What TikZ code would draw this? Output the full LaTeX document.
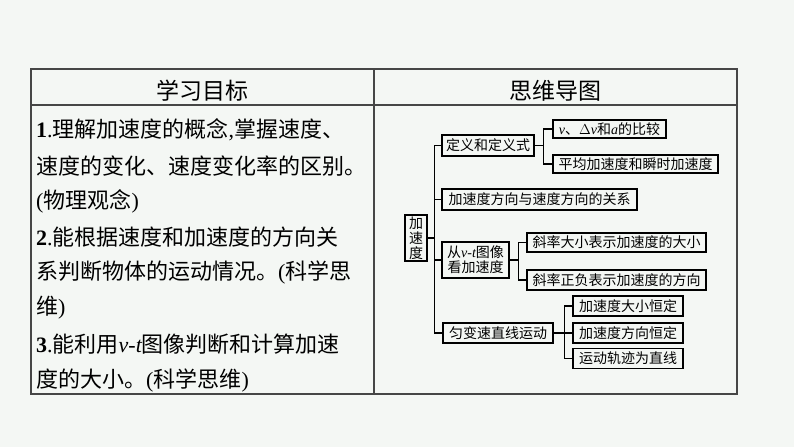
\documentclass[tikz,border=0pt]{standalone}
\usepackage{fontspec}
\setmainfont{Liberation Serif}
\newfontfamily\cjk{Noto Sans CJK SC}
\definecolor{bgc}{RGB}{244,247,244}
\definecolor{tblc}{RGB}{70,70,70}
\begin{document}
\begin{tikzpicture}[x=1pt,y=-1pt,
  lt/.style={anchor=west, inner sep=0pt, font=\cjk\fontsize{22}{26}\selectfont},
  hd/.style={inner sep=0pt, font=\cjk\fontsize{23}{27}\selectfont},
  bx/.style={draw=black, line width=1.1pt, fill=bgc, inner sep=0pt, font=\cjk\fontsize{14}{15}\selectfont},
  ln/.style={draw=black, line width=1.1pt},
  tbl/.style={draw=tblc, line width=1.2pt}]
\fill[bgc] (0,0) rectangle (794,447);
\useasboundingbox (0,0) rectangle (794,447);
% table
\draw[tbl] (31,69) rectangle (737,394);
\draw[tbl] (31,105) -- (737,105);
\draw[tbl] (374,69) -- (374,394);
\node[hd] (h1) at (202.5,91) {学习目标};
\node[hd] (h2) at (555.5,91) {思维导图};
% left text
\node[lt] (l1) at (36,130) {{\rmfamily\textbf{1}.}理解加速度的概念{\rmfamily,}掌握速度、};
\node[lt] (l2) at (36,166) {速度的变化、速度变化率的区别。};
\node[lt] (l3) at (36,201) {{\rmfamily(}物理观念{\rmfamily)}};
\node[lt] (l4) at (36,237) {{\rmfamily\textbf{2}.}能根据速度和加速度的方向关};
\node[lt] (l5) at (36,272) {系判断物体的运动情况。{\rmfamily(}科学思};
\node[lt] (l6) at (36,308) {维{\rmfamily)}};
\node[lt] (l7) at (36,344) {{\rmfamily\textbf{3}.}能利用{\rmfamily\itshape v-t}图像判断和计算加速};
\node[lt] (l8) at (36,380) {度的大小。{\rmfamily(}科学思维{\rmfamily)}};
% mind map
\node[bx, minimum width=22, minimum height=46, align=center, font=\cjk\fontsize{14}{15}\selectfont] (root) at (416,238) {加\\速\\度};
\node[bx, minimum width=92, minimum height=21] (b1) at (488,145.5) {定义和定义式};
\node[bx, minimum width=195, minimum height=21] (b2) at (539.5,199.5) {加速度方向与速度方向的关系};
\node[bx, minimum width=67, minimum height=36, align=center] (b3) at (475.5,260) {从{\rmfamily\itshape v}{\rmfamily-}{\rmfamily\itshape t}图像\\看加速度};
\node[bx, minimum width=110, minimum height=20] (b4) at (498,333) {匀变速直线运动};
\node[bx, minimum width=113, minimum height=18] (c1) at (609.5,129) {{\rmfamily\itshape v}、{\rmfamily$\Delta$\itshape v}和{\rmfamily\itshape a}的比较};
\node[bx, minimum width=165, minimum height=18] (c2) at (635.5,164) {平均加速度和瞬时加速度};
\node[bx, minimum width=179, minimum height=19] (d1) at (616.5,242.5) {斜率大小表示加速度的大小};
\node[bx, minimum width=179, minimum height=20] (d2) at (616.5,280) {斜率正负表示加速度的方向};
\node[bx, minimum width=110, minimum height=20] (e1) at (628,306) {加速度大小恒定};
\node[bx, minimum width=110, minimum height=20] (e2) at (628,333) {加速度方向恒定};
\node[bx, minimum width=110, minimum height=20] (e3) at (628,358.5) {运动轨迹为直线};
% connectors
\draw[ln] (root.east) -- ++(7,0) coordinate (t);
\draw[ln] (t) |- (b1.west);
\draw[ln] (t) |- (b2.west);
\draw[ln] (t) |- (b3.west);
\draw[ln] (t) |- (b4.west);
\draw[ln] (b1.east) -- ++(9,0) coordinate (j1);
\draw[ln] (j1) |- (c1.west);
\draw[ln] (j1) |- (c2.west);
\draw[ln] (b3.east) -- ++(9,0) coordinate (j3);
\draw[ln] (j3) |- (d1.west);
\draw[ln] (j3) |- (d2.west);
\draw[ln] (b4.east) -- ++(11,0) coordinate (j4);
\draw[ln] (j4) |- (e1.west);
\draw[ln] (j4) |- (e2.west);
\draw[ln] (j4) |- (e3.west);
\end{tikzpicture}
\end{document}
